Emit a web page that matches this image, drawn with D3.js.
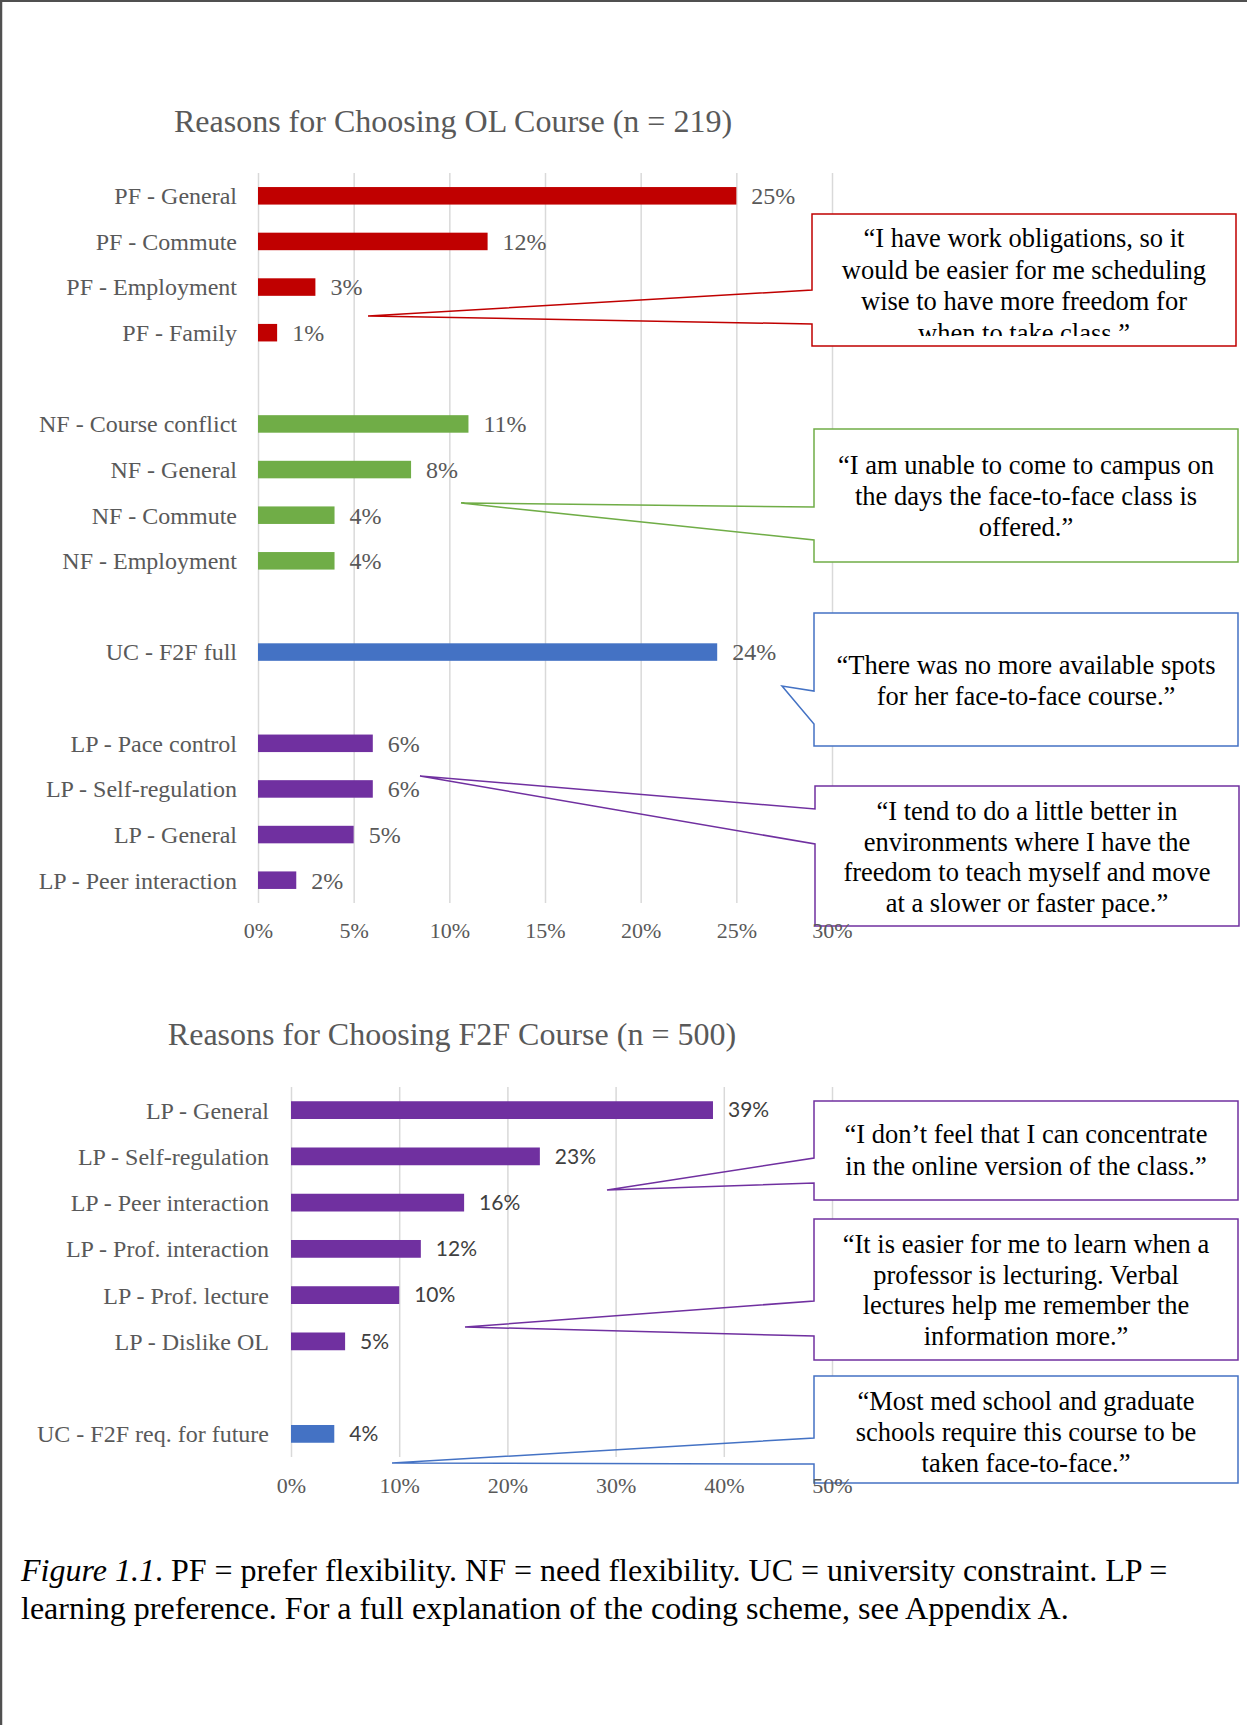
<!DOCTYPE html>
<html>
<head>
<meta charset="utf-8">
<script src="https://cdn.jsdelivr.net/npm/d3@7"></script>
<style>
  body { margin: 0; background: #fff; }
  svg { display: block; }
</style>
</head>
<body>
<div id="chart-area"></div>
<script>
/*
*    Reasons for choosing OL / F2F course - two bar charts with quote callouts
*/

// ---- data ----
var olCategories = ["PF - General", "PF - Commute", "PF - Employment", "PF - Family",
    "NF - Course conflict", "NF - General", "NF - Commute", "NF - Employment",
    "UC - F2F full",
    "LP - Pace control", "LP - Self-regulation", "LP - General", "LP - Peer interaction"];
var olValues = [25, 12, 3, 1, 11, 8, 4, 4, 24, 6, 6, 5, 2];
var olTicks = [0, 5, 10, 15, 20, 25, 30];

var f2fCategories = ["LP - General", "LP - Self-regulation", "LP - Peer interaction",
    "LP - Prof. interaction", "LP - Prof. lecture", "LP - Dislike OL",
    "UC - F2F req. for future"];
var f2fValues = [39, 23, 16, 12, 10, 5, 4];
var f2fTicks = [0, 10, 20, 30, 40, 50];

var olTitle = "Reasons for Choosing OL Course (n = 219)";
var f2fTitle = "Reasons for Choosing F2F Course (n = 500)";

var quotePF = ["\u201CI have work obligations, so it", "would be easier for me scheduling",
    "wise to have more freedom for", "when to take class.\u201D"];
var quoteNF = ["\u201CI am unable to come to campus on", "the days the face-to-face class is", "offered.\u201D"];
var quoteUC = ["\u201CThere was no more available spots", "for her face-to-face course.\u201D"];
var quoteLP = ["\u201CI tend to do a little better in", "environments where I have the",
    "freedom to teach myself and move", "at a slower or faster pace.\u201D"];
var quoteF2F1 = ["\u201CI don\u2019t feel that I can concentrate", "in the online version of the class.\u201D"];
var quoteF2F2 = ["\u201CIt is easier for me to learn when a", "professor is lecturing. Verbal",
    "lectures help me remember the", "information more.\u201D"];
var quoteF2F3 = ["\u201CMost med school and graduate", "schools require this course to be", "taken face-to-face.\u201D"];

// ---- styles ----
var serif = "'Liberation Serif', 'Times New Roman', serif";
var sans = "Lato, 'Open Sans', sans-serif";
var groupColour = d3.scaleOrdinal()
    .domain(["PF", "NF", "UC", "LP"])
    .range(["#C00000", "#70AD47", "#4472C4", "#7030A0"]);

var svg = d3.select("#chart-area")
    .append("svg")
    .attr("width", 1247)
    .attr("height", 1725);

// page edges
svg.append("line").attr("x1", 1).attr("x2", 1).attr("y1", 0).attr("y2", 1725)
    .attr("stroke", "#505050").attr("stroke-width", 2.5);
svg.append("line").attr("x1", 0).attr("x2", 1247).attr("y1", 1).attr("y2", 1)
    .attr("stroke", "#505050").attr("stroke-width", 2);

// insert an empty slot whenever the code prefix changes
function rowsWithGaps(cats) {
    var rows = [], prev = null, gap = 0;
    cats.forEach(function(c) {
        var grp = c.split(" - ")[0];
        if (prev !== null && grp !== prev) { rows.push("_gap" + (gap++)); }
        rows.push(c);
        prev = grp;
    });
    return rows;
}

function drawChart(opt) {
    var g = svg.append("g");
    var data = opt.cats.map(function(c, i) {
        return { cat: c, value: opt.values[i], grp: c.split(" - ")[0] };
    });

    var x = d3.scaleLinear()
        .domain([0, d3.max(opt.ticks)])
        .range([opt.left, opt.right]);
    var y = d3.scaleBand()
        .domain(rowsWithGaps(opt.cats))
        .range([opt.top, opt.bottom])
        .paddingInner(0.616)
        .paddingOuter(0.308);

    // gridlines only (labels go on top of the callouts later)
    var gridG = g.append("g")
        .attr("transform", "translate(0," + opt.bottom + ")")
        .call(d3.axisBottom(x)
            .tickValues(opt.ticks)
            .tickSize(-(opt.bottom - opt.top))
            .tickFormat(""));
    gridG.select(".domain").remove();
    gridG.selectAll(".tick line").attr("stroke", "#D9D9D9").attr("stroke-width", 1.5);

    g.selectAll("rect.bar")
        .data(data)
        .enter()
        .append("rect")
        .attr("class", "bar")
        .attr("x", x(0))
        .attr("y", function(d) { return y(d.cat); })
        .attr("width", function(d) { return x(d.value) - x(0); })
        .attr("height", y.bandwidth())
        .attr("fill", function(d) { return groupColour(d.grp); });

    // category labels
    g.selectAll("text.cat")
        .data(data)
        .enter()
        .append("text")
        .attr("class", "cat")
        .attr("x", x(0) - opt.labelGap)
        .attr("y", function(d) { return y(d.cat) + y.bandwidth() / 2; })
        .attr("dy", "0.35em")
        .attr("text-anchor", "end")
        .attr("fill", "#595959")
        .style("font-family", serif)
        .style("font-size", "24px")
        .text(function(d) { return d.cat; });

    // value labels
    g.selectAll("text.val")
        .data(data)
        .enter()
        .append("text")
        .attr("class", "val")
        .attr("x", function(d) { return x(d.value) + 15; })
        .attr("y", function(d) { return y(d.cat) + y.bandwidth() / 2; })
        .attr("dy", "0.35em")
        .attr("fill", opt.valColour)
        .style("font-family", opt.valFont)
        .style("font-size", opt.valSize)
        .text(function(d) { return d.value + "%"; });

    g.append("text")
        .attr("x", opt.titleX)
        .attr("y", opt.titleY)
        .attr("text-anchor", "middle")
        .attr("fill", "#595959")
        .style("font-family", serif)
        .style("font-size", "32px")
        .text(opt.title);

    return { x: x, opt: opt };
}

function drawTickLabels(chart) {
    var opt = chart.opt;
    var labelG = svg.append("g")
        .attr("transform", "translate(0," + opt.bottom + ")")
        .call(d3.axisBottom(chart.x)
            .tickValues(opt.ticks)
            .tickSize(0)
            .tickPadding(opt.tickPad)
            .tickFormat(function(d) { return d + "%"; }));
    labelG.select(".domain").remove();
    labelG.selectAll(".tick line").remove();
    labelG.selectAll(".tick text")
        .attr("fill", "#595959")
        .style("font-family", serif)
        .style("font-size", "22px");
}

var olChart = drawChart({
    cats: olCategories, values: olValues, ticks: olTicks, title: olTitle,
    left: 258, right: 832, top: 173, bottom: 903, tickPad: 19, labelGap: 21,
    titleX: 453, titleY: 132,
    valFont: serif, valSize: "24px", valColour: "#595959"
});
var f2fChart = drawChart({
    cats: f2fCategories, values: f2fValues, ticks: f2fTicks, title: f2fTitle,
    left: 291, right: 832, top: 1087, bottom: 1457, tickPad: 20, labelGap: 22,
    titleX: 452, titleY: 1045,
    valFont: sans, valSize: "21px", valColour: "#404040"
});

// ---- callouts ----
var callouts = [
    { lines: quotePF, colour: "#C00000", box: [812, 214, 1236, 346], wedge: [290, 324], tip: [368, 316], y0: 247, lh: 31.5, clipBottom: 336 },
    { lines: quoteNF, colour: "#70AD47", box: [814, 429, 1238, 562], wedge: [507, 540], tip: [461, 503], y0: 474, lh: 31 },
    { lines: quoteUC, colour: "#4472C4", box: [814, 613, 1238, 746], wedge: [691, 724], tip: [782, 686], y0: 674, lh: 30.5 },
    { lines: quoteLP, colour: "#7030A0", box: [815, 786, 1239, 926], wedge: [809, 844], tip: [420, 776], y0: 820, lh: 30.7 },
    { lines: quoteF2F1, colour: "#7030A0", box: [814, 1101, 1238, 1200], wedge: [1158, 1183], tip: [607, 1190], y0: 1143, lh: 31.5 },
    { lines: quoteF2F2, colour: "#7030A0", box: [814, 1219, 1238, 1360], wedge: [1301, 1336], tip: [465, 1327], y0: 1253, lh: 30.7 },
    { lines: quoteF2F3, colour: "#4472C4", box: [814, 1376, 1238, 1483], wedge: [1438, 1464], tip: [392, 1463], y0: 1410, lh: 31 }
];

var defs = svg.append("defs");
callouts.forEach(function(c, i) {
    var l = c.box[0], t = c.box[1], r = c.box[2], b = c.box[3];
    var cg = svg.append("g");
    cg.append("rect")
        .attr("x", l).attr("y", t).attr("width", r - l).attr("height", b - t)
        .attr("fill", "#fff");
    var p = d3.path();
    p.moveTo(l, t);
    p.lineTo(r, t);
    p.lineTo(r, b);
    p.lineTo(l, b);
    p.lineTo(l, c.wedge[1]);
    p.lineTo(c.tip[0], c.tip[1]);
    p.lineTo(l, c.wedge[0]);
    p.closePath();
    cg.append("path")
        .attr("d", p.toString())
        .attr("fill", "none")
        .attr("stroke", c.colour)
        .attr("stroke-width", 1.5)
        .attr("stroke-linejoin", "miter");

    var tg = cg.append("g");
    if (c.clipBottom) {
        defs.append("clipPath").attr("id", "clip" + i)
            .append("rect").attr("x", l).attr("y", t).attr("width", r - l).attr("height", c.clipBottom - t);
        tg.attr("clip-path", "url(#clip" + i + ")");
    }
    tg.selectAll("text")
        .data(c.lines)
        .enter()
        .append("text")
        .attr("x", (l + r) / 2)
        .attr("y", function(d, j) { return c.y0 + j * c.lh; })
        .attr("text-anchor", "middle")
        .attr("fill", "#000")
        .style("font-family", serif)
        .style("font-size", "26.5px")
        .text(function(d) { return d; });
});

// tick labels sit on top of the callout boxes
drawTickLabels(olChart);
drawTickLabels(f2fChart);

// ---- caption ----
var cap = svg.append("text")
    .attr("x", 21)
    .attr("y", 1581)
    .attr("fill", "#000")
    .style("font-family", serif)
    .style("font-size", "32px");
cap.append("tspan").style("font-style", "italic").text("Figure 1.1");
cap.append("tspan").text(". PF = prefer flexibility. NF = need flexibility. UC = university constraint. LP =");
svg.append("text")
    .attr("x", 21)
    .attr("y", 1619)
    .attr("fill", "#000")
    .style("font-family", serif)
    .style("font-size", "32px")
    .text("learning preference. For a full explanation of the coding scheme, see Appendix A.");
</script>
</body>
</html>
